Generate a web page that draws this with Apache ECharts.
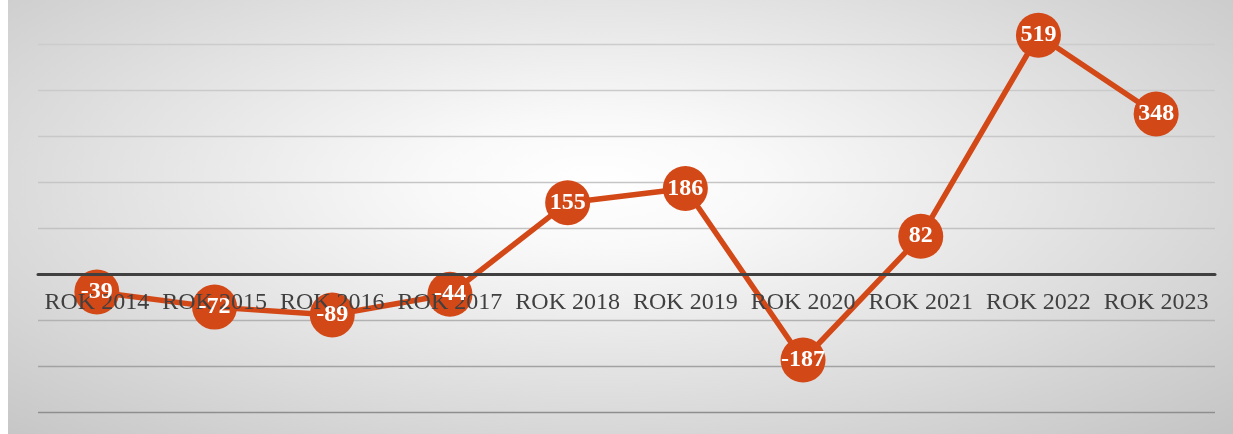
<!DOCTYPE html>
<html>
<head>
<meta charset="utf-8">
<script src="https://cdn.jsdelivr.net/npm/echarts@6/dist/echarts.min.js"></script>
<style>
html,body{margin:0;padding:0;background:#fff;}
#chart{position:absolute;left:8px;top:0;width:1225px;height:434px;
background:radial-gradient(ellipse farthest-corner at 48% 42%, #ffffff 0%, #f9f9f9 18%, #c4c4c4 100%);}
</style>
</head>
<body>
<div id="chart"></div>
<script>
const categories = ['ROK 2014','ROK 2015','ROK 2016','ROK 2017','ROK 2018','ROK 2019','ROK 2020','ROK 2021','ROK 2022','ROK 2023'];
const values = [-39, -72, -89, -44, 155, 186, -187, 82, 519, 348];
const yMin = -300, yMax = 500, yStep = 100;
const gridColors = ['#8e8e8e','#a2a2a2','#b2b2b2','#bcbcbc','#c2c2c2','#c5c5c5','#c8c8c8','#cacaca','#cccccc'];

const gridTop = 44, gridBottom = 22, H = 434;
const plotH = H - gridTop - gridBottom;
const zeroOffset = -plotH * (0 - yMin) / (yMax - yMin);

const chart = echarts.init(document.getElementById('chart'), null, {renderer:'canvas'});
const orange = '#D34817';
chart.setOption({
  backgroundColor: 'transparent',
  animation: false,
  grid: {left: 30, right: 18, top: gridTop, bottom: gridBottom, containLabel: false, outerBoundsMode: 'none'},
  xAxis: {
    type: 'category', data: categories, boundaryGap: true, z: 3,
    position: 'bottom', offset: zeroOffset,
    axisLine: {onZero: false, lineStyle: {color: '#404040', width: 3}},
    axisTick: {show: false},
    axisLabel: {color: '#404040', fontFamily: 'Liberation Serif', fontSize: 24, margin: 17, interval: 0, hideOverlap: false}
  },
  yAxis: {
    type: 'value', min: yMin, max: yMax, interval: yStep,
    axisLabel: {show: false}, axisLine: {show: false}, axisTick: {show: false},
    splitLine: {show: true, lineStyle: {color: gridColors, width: 1.3}}
  },
  series: [
    {
      type: 'line', data: values, z: 2, clip: false,
      symbol: 'circle', symbolSize: 45, showSymbol: true,
      lineStyle: {color: orange, width: 5.5},
      itemStyle: {color: orange},
      label: {show: false}
    },
    {
      type: 'line', data: values, z: 5, clip: false,
      symbol: 'circle', symbolSize: 45,
      lineStyle: {width: 0, opacity: 0},
      itemStyle: {color: 'rgba(0,0,0,0)'},
      label: {show: true, position: 'inside', color: '#ffffff', fontFamily: 'Liberation Serif', fontWeight: 'bold', fontSize: 24}
    }
  ]
});
</script>
</body>
</html>
